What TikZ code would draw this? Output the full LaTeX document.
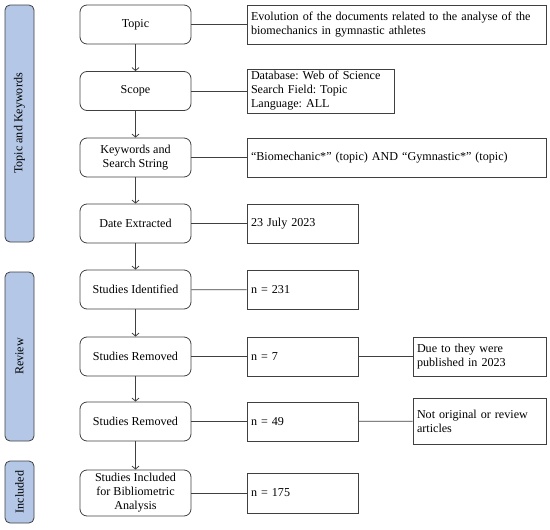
\documentclass[tikz,border=0pt]{standalone}
\usepackage{fontspec}
\setmainfont{Liberation Serif}
\usetikzlibrary{arrows.meta}
\definecolor{edge}{HTML}{404040}
\definecolor{sidefill}{HTML}{B4C7E7}
\frenchspacing
\begin{document}
\begin{tikzpicture}[x=1pt,y=-1pt,
  every node/.style={font=\fontsize{12.1}{14}\selectfont, text=black},
  lbox/.style={draw=edge, line width=0.8pt, rounded corners=7pt, minimum width=111pt, minimum height=39pt, align=center, inner sep=2pt},
  rbox/.style 2 args={draw=edge, line width=0.8pt, minimum width=#1pt, text width=#1pt-8pt, minimum height=#2pt, align=left, inner xsep=3pt, inner ysep=2pt},
  side/.style={draw=edge, line width=0.8pt, fill=sidefill, rounded corners=5pt, rotate=90, minimum height=29pt, inner sep=1pt},
  conn/.style={draw=edge, line width=0.8pt},
  arr/.style={conn, -{Straight Barb[length=3pt,width=7pt]}}
]
\useasboundingbox (0,0) rectangle (550,530);

% side bars
\node[side, minimum width=237pt] (s1) at (19.5,123.5) {Topic and Keywords};
\node[side, minimum width=169pt] (s2) at (19.5,356.5) {Review};
\node[side, minimum width=62pt] (s3) at (19.5,492) {Included};

% left boxes
\node[lbox] (topic) at (135.5,24.5) {Topic};
\node[lbox] (scope) at (135.5,91) {Scope};
\node[lbox] (kw) at (135.5,157.5) {Keywords and\\Search String};
\node[lbox] (date) at (135.5,223.5) {Date Extracted};
\node[lbox] (ident) at (135.5,289.5) {Studies Identified};
\node[lbox] (rem1) at (135.5,356.5) {Studies Removed};
\node[lbox] (rem2) at (135.5,421.5) {Studies Removed};
\node[lbox, minimum height=46pt] (incl) at (135.5,493) {Studies Included\\for Bibliometric\\Analysis};

% right boxes
\node[rbox={299}{39}] (topicR) at (396.5,24.5) {Evolution of the documents related to the analyse of the biomechanics in gymnastic athletes};
\node[rbox={147}{44}] (scopeR) at (320.5,91) {Database: Web of Science\\Search Field: Topic\\Language: ALL};
\node[rbox={299}{39}] (kwR) at (396.5,157.5) {“Biomechanic*” (topic) AND “Gymnastic*” (topic)};
\node[rbox={111}{39}] (dateR) at (302.5,223.5) {23 July 2023};
\node[rbox={111}{39}] (identR) at (302.5,290) {n = 231};
\node[rbox={111}{39}] (rem1R) at (302.5,356.5) {n = 7};
\node[rbox={111}{39}] (rem2R) at (302.5,421.5) {n = 49};
\node[rbox={111}{40}] (inclR) at (302.5,493) {n = 175};
\node[rbox={133}{39}] (due) at (479.5,356.5) {Due to they were\\published in 2023};
\node[rbox={133}{46}] (notorig) at (479.5,421) {Not original or review articles};

% arrows
\draw[arr] (topic) -- (scope);
\draw[arr] (scope) -- (kw);
\draw[arr] (kw) -- (date);
\draw[arr] (date) -- (ident);
\draw[arr] (ident) -- (rem1);
\draw[arr] (rem1) -- (rem2);
\draw[arr] (rem2) -- (incl);

% connectors
\draw[conn] (topic) -- (topicR);
\draw[conn] (scope) -- (scopeR);
\draw[conn] (kw) -- (kwR);
\draw[conn] (date) -- (dateR);
\draw[conn] (ident) -- (identR);
\draw[conn] (rem1) -- (rem1R);
\draw[conn] (rem2) -- (rem2R);
\draw[conn] (incl) -- (inclR);
\draw[conn] (rem1R) -- (due);
\draw[conn] (rem2R) -- (notorig);
\end{tikzpicture}
\end{document}
